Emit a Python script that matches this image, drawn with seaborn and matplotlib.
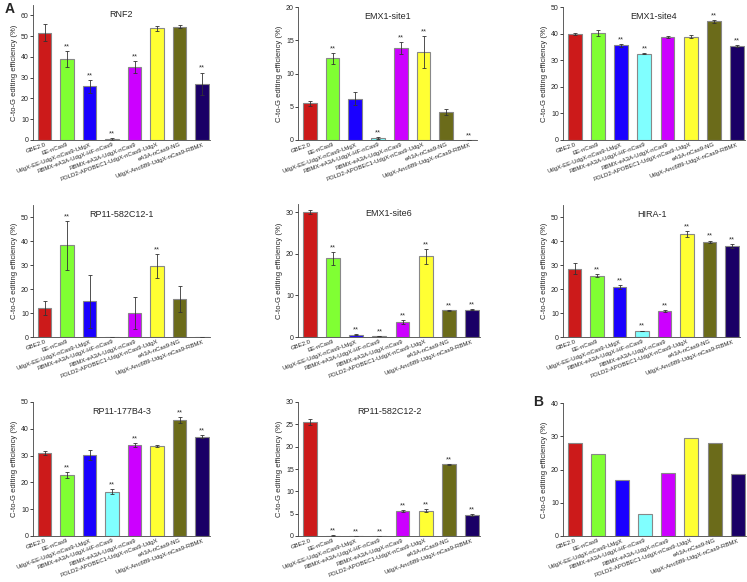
import numpy as np
import matplotlib
matplotlib.use("Agg")
import matplotlib.pyplot as plt
import seaborn as sns

# -----------------------------
# Data
# -----------------------------
categories = ["GBE2.0", "EE-nCas9", "UdgX-EE-UdgX-nCas9-UdgX",
              "RBMX-eA3A-UdgX-HF-nCas9", "RBMX-eA3A-UdgX-nCas9",
              "POLD2-APOBEC1-UdgX-nCas9-UdgX", "eA3A-nCas9-NG",
              "UdgX-Anc689-UdgX-nCas9-RBMX"]
colors = ["#cc1a1a", "#80ff33", "#1a00ff", "#80ffff",
          "#cc00ff", "#ffff33", "#6b6b1a", "#1a0066"]

rnf2 = [51.7, 39.0, 25.8, 0.5, 35.3, 53.7, 54.5, 27.0]
rnf2_err = [4.0, 3.8, 3.0, 0.3, 2.8, 1.2, 0.8, 5.5]
rnf2_sig = [0, 1, 1, 1, 1, 0, 0, 1]

emx1_site1 = [5.5, 12.3, 6.2, 0.3, 13.8, 13.3, 4.2, 0.0]
emx1_site1_err = [0.4, 0.8, 1.0, 0.1, 0.9, 2.4, 0.5, 0.0]
emx1_site1_sig = [0, 1, 0, 1, 1, 1, 0, 1]

emx1_site4 = [39.7, 40.2, 35.6, 32.5, 38.8, 38.9, 44.6, 35.3]
emx1_site4_err = [0.4, 1.0, 0.6, 0.3, 0.4, 0.6, 0.6, 0.3]
emx1_site4_sig = [0, 0, 1, 1, 0, 0, 1, 1]

rp11_582c12_1 = [12.0, 38.3, 14.8, 0.0, 10.0, 29.4, 15.8, 0.0]
rp11_582c12_1_err = [3.0, 10.2, 11.2, 0.0, 6.7, 5.0, 5.4, 0.0]
rp11_582c12_1_sig = [0, 1, 0, 0, 0, 1, 0, 0]

emx1_site6 = [30.0, 18.9, 0.6, 0.2, 3.6, 19.4, 6.4, 6.6]
emx1_site6_err = [0.5, 1.5, 0.2, 0.05, 0.5, 1.8, 0.2, 0.05]
emx1_site6_sig = [0, 1, 1, 1, 1, 1, 1, 1]

hira_1 = [28.5, 25.6, 20.9, 2.5, 10.8, 43.0, 39.6, 37.9]
hira_1_err = [2.2, 0.8, 0.7, 0.2, 0.4, 1.2, 0.6, 1.0]
hira_1_sig = [0, 1, 1, 1, 1, 1, 1, 1]

rp11_177b4_3 = [31.0, 22.9, 30.2, 16.6, 34.0, 33.5, 43.4, 37.1]
rp11_177b4_3_err = [0.6, 1.1, 1.8, 0.8, 0.7, 0.3, 1.1, 0.6]
rp11_177b4_3_sig = [0, 1, 0, 1, 1, 0, 1, 1]

rp11_582c12_2 = [25.6, 0.1, 0.0, 0.0, 5.6, 5.7, 16.1, 4.7]
rp11_582c12_2_err = [0.7, 0.05, 0.0, 0.0, 0.3, 0.3, 0.1, 0.3]
rp11_582c12_2_sig = [0, 1, 1, 1, 1, 1, 1, 1]

average = [28.0, 24.6, 16.8, 6.5, 18.9, 29.6, 28.1, 18.6]

# -----------------------------
# Layout (pixel boxes: left, top, right, bottom)
# -----------------------------
W, H = 747, 582
panels = [
    ("RNF2", rnf2, rnf2_err, rnf2_sig, 65, (33, 5, 210, 140)),
    ("EMX1-site1", emx1_site1, emx1_site1_err, emx1_site1_sig, 20, (298, 7, 477, 140)),
    ("EMX1-site4", emx1_site4, emx1_site4_err, emx1_site4_sig, 50, (563, 7, 745, 140)),
    ("RP11-582C12-1", rp11_582c12_1, rp11_582c12_1_err, rp11_582c12_1_sig, 55, (33, 205, 210, 337)),
    ("EMX1-site6", emx1_site6, emx1_site6_err, emx1_site6_sig, 32, (298, 204, 480, 337)),
    ("HIRA-1", hira_1, hira_1_err, hira_1_sig, 55, (563, 205, 740, 337)),
    ("RP11-177B4-3", rp11_177b4_3, rp11_177b4_3_err, rp11_177b4_3_sig, 50, (33, 402, 210, 536)),
    ("RP11-582C12-2", rp11_582c12_2, rp11_582c12_2_err, rp11_582c12_2_sig, 30, (298, 402, 480, 536)),
    ("", average, None, None, 40, (563, 403, 746, 536)),
]

sns.set_style("ticks")
plt.rcParams["font.family"] = ["Liberation Sans", "DejaVu Sans"]

fig = plt.figure(figsize=(W / 100, H / 100), dpi=100)

for title, vals, errs, sig, ytop, box in panels:
    l, t, r, b = box
    ax = fig.add_axes([l / W, 1 - b / H, (r - l) / W, (b - t) / H])
    x = np.arange(len(categories))
    sns.barplot(x=categories, y=vals, hue=categories, palette=colors,
                legend=False, width=0.6, edgecolor="#888888", linewidth=0.8,
                saturation=1, ax=ax)
    if errs is not None:
        ax.errorbar(x, vals, yerr=errs, fmt="none", ecolor="#333333",
                    elinewidth=0.6, capsize=1.5, capthick=0.6)
        for i in range(len(vals)):
            if sig[i]:
                ax.text(i, vals[i] + errs[i] + ytop * 0.005, "**",
                        ha="center", va="bottom", fontsize=5.5, color="#333333")
    ax.set_ylim(0, ytop)
    ax.set_xlim(-0.52, 7.35)
    ax.set_yticks(np.arange(0, ytop + 0.1, 10 if ytop > 30 else 5))
    ax.tick_params(axis="y", labelsize=5, length=2, width=0.6, pad=1)
    ax.tick_params(axis="x", labelsize=4.3, length=0, pad=1.5)
    ax.set_xticks(x)
    ax.set_xticklabels(categories, rotation=20, ha="right", rotation_mode="anchor")
    ax.set_ylabel("C-to-G editing efficiency (%)", fontsize=5.5, labelpad=2)
    ax.set_xlabel("")
    for s in ["top", "right"]:
        ax.spines[s].set_visible(False)
    for s in ["left", "bottom"]:
        ax.spines[s].set_linewidth(0.6)
        ax.spines[s].set_color("#444444")
    if title:
        ax.text(0.5, 0.96, title, transform=ax.transAxes, ha="center",
                va="top", fontsize=6.5)

fig.text(5 / W, 1 - 2 / H, "A", fontsize=10, fontweight="bold", va="top")
fig.text(533 / W, 1 - 395 / H, "B", fontsize=10, fontweight="bold", va="top")

fig.savefig("out.png", dpi=100)
